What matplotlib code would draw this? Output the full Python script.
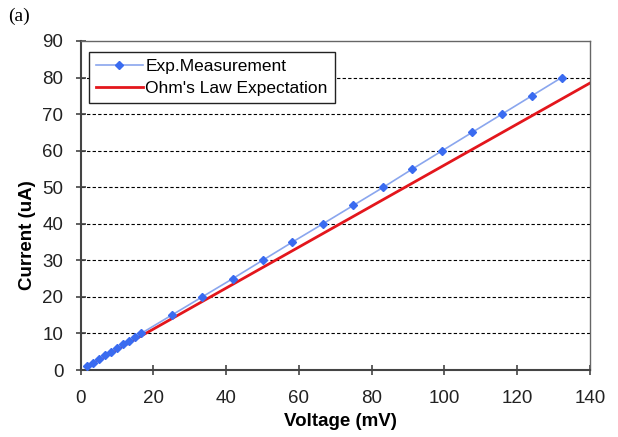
import matplotlib.pyplot as plt
from matplotlib.ticker import MultipleLocator

# Measured points (voltage in mV, current in uA)
meas_voltage = [1.7, 3.3, 5.0, 6.7, 8.3, 10.0, 11.6, 13.3, 15.0, 16.6,
                25.0, 33.4, 41.8, 50.0, 58.2, 66.6, 74.9, 83.2, 91.2,
                99.4, 107.6, 115.8, 124.0, 132.2]
meas_current = [1, 2, 3, 4, 5, 6, 7, 8, 9, 10,
                15, 20, 25, 30, 35, 40, 45, 50, 55,
                60, 65, 70, 75, 80]

# Ohm's law expectation line
ohm_voltage = [1.7, 140.0]
ohm_current = [0.95, 78.5]

plt.rcParams['font.family'] = ['Liberation Sans', 'DejaVu Sans']

fig = plt.figure(figsize=(6.18, 4.37), dpi=100, facecolor='white')
ax = fig.add_axes([0.1306, 0.1533, 0.9547 - 0.1306, 0.9062 - 0.1533])

ax.plot(meas_voltage, meas_current, color='#8AA6EE', linewidth=1.2,
        marker='D', markersize=4.5, markerfacecolor='#3A6BF0',
        markeredgecolor='#3A6BF0', label='Exp.Measurement', zorder=3)
ax.plot(ohm_voltage, ohm_current, color='#E3161C', linewidth=2.0,
        label="Ohm's Law Expectation", zorder=2)

ax.set_xlim(0, 140)
ax.set_ylim(0, 90)
ax.xaxis.set_major_locator(MultipleLocator(20))
ax.yaxis.set_major_locator(MultipleLocator(10))

for y in range(10, 90, 10):
    ax.axhline(y, color='black', linestyle=(0, (3, 2)), linewidth=0.8, zorder=1)

ax.tick_params(direction='inout', length=7, width=1.2, color='#444444',
               labelsize=13.5, labelcolor='#222222')
ax.tick_params(axis='x', pad=11)
ax.tick_params(axis='y', pad=9)

for side in ['left', 'bottom']:
    ax.spines[side].set_color('#444444')
    ax.spines[side].set_linewidth(1.5)
for side in ['top', 'right']:
    ax.spines[side].set_color('#666666')
    ax.spines[side].set_linewidth(1.0)

ax.set_xlabel('Voltage (mV)', fontsize=13.5, fontweight='bold', va='center')
ax.set_ylabel('Current (uA)', fontsize=13.5, fontweight='bold', va='center')
ax.xaxis.set_label_coords(0.509, -0.158)
ax.yaxis.set_label_coords(-0.105, 0.41)

leg = ax.legend(loc='upper left', bbox_to_anchor=(0.016, 0.967), fontsize=12.5,
                frameon=True, fancybox=False, borderpad=0.4,
                handlelength=2.7, handletextpad=0.15, labelspacing=0.38,
                borderaxespad=0)
leg.get_frame().set_edgecolor('#222222')
leg.get_frame().set_linewidth(1.0)
leg.get_frame().set_alpha(1.0)

fig.text(0.013, 0.962, '(a)', fontsize=14, family='Liberation Serif',
         ha='left', va='center')

fig.savefig('out.png', dpi=100, facecolor='white')
